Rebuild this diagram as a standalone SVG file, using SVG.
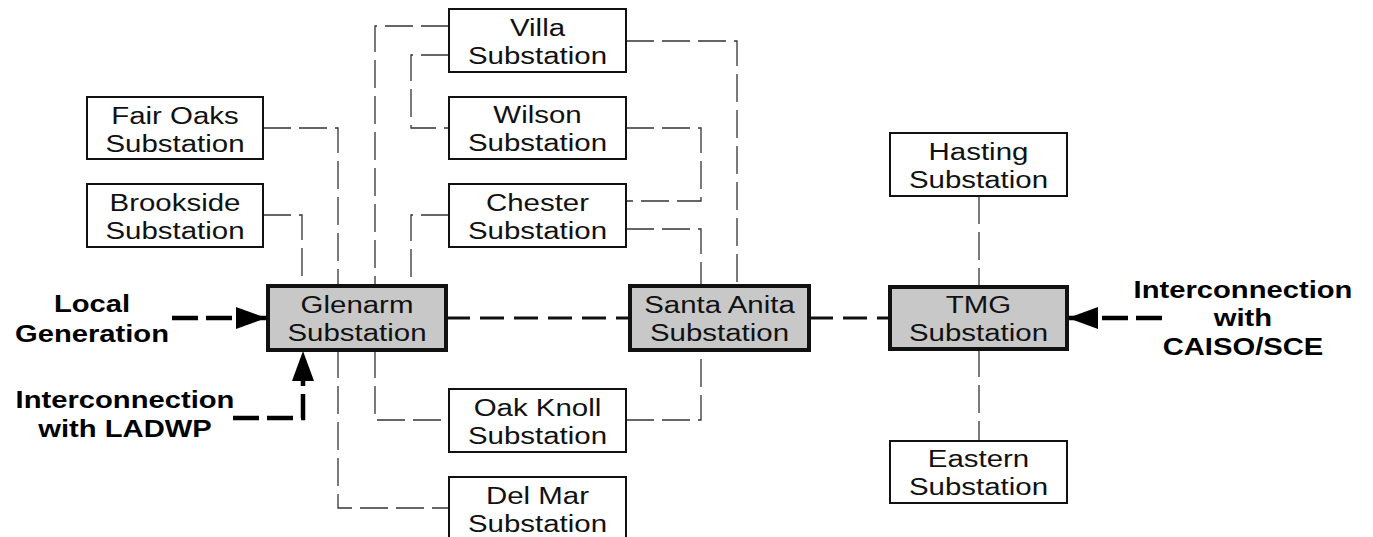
<svg xmlns="http://www.w3.org/2000/svg" width="1373" height="537" viewBox="0 0 1373 537">
<style>
  .box { fill: #ffffff; stroke: #111; stroke-width: 2; }
  .main { fill: #c8c8c8; stroke: #111; stroke-width: 4; }
  .t { font-family: "Liberation Sans", Arial, sans-serif; font-size: 23px; fill: #111; text-anchor: middle; }
  .b { font-family: "Liberation Sans", Arial, sans-serif; font-size: 23px; font-weight: bold; fill: #000; text-anchor: middle; }
  .thin { fill: none; stroke: #333; stroke-width: 1.3; stroke-dasharray: 28 8; }
  .thick { fill: none; stroke: #111; stroke-width: 3; stroke-dasharray: 24 10; }
  .feed { fill: none; stroke: #000; stroke-width: 4.5; stroke-dasharray: 26 8; }
</style>
<defs>
  <marker id="ah" markerUnits="userSpaceOnUse" markerWidth="32" markerHeight="24" refX="30" refY="11" orient="auto">
    <path d="M0,0 L30,11 L0,22 Z" fill="#000"/>
  </marker>
</defs>
<rect width="1373" height="537" fill="#ffffff"/>
<g id="connectors">
  <!-- Fair Oaks -->
  <path class="thin" d="M263,128 H338 V286"/>
  <!-- Brookside -->
  <path class="thin" d="M263,215 H302 V286"/>
  <!-- Villa to Glenarm -->
  <path class="thin" d="M449,26 H375 V286"/>
  <!-- Villa to Wilson -->
  <path class="thin" d="M449,55 H411 V128 H449"/>
  <!-- Chester to Glenarm -->
  <path class="thin" d="M449,215 H411 V286"/>
  <!-- Villa to Santa Anita -->
  <path class="thin" d="M626,41 H737 V286"/>
  <!-- Wilson to Chester -->
  <path class="thin" d="M626,128 H701 V201 H626"/>
  <!-- Chester to Santa Anita -->
  <path class="thin" d="M626,229 H701 V286"/>
  <!-- Glenarm to Del Mar -->
  <path class="thin" d="M338,350 V508 H449"/>
  <!-- Glenarm to Oak Knoll -->
  <path class="thin" d="M375,350 V420 H449"/>
  <!-- Oak Knoll to Santa Anita -->
  <path class="thin" d="M626,420 H701 V350"/>
  <!-- Hasting / Eastern -->
  <path class="thin" d="M979,196 V287"/>
  <path class="thin" d="M979,349 V441"/>
  <!-- main lines -->
  <path class="thick" d="M446,318 H630"/>
  <path class="thick" d="M809,318 H890"/>
  <!-- feeds -->
  <path class="feed" d="M172,318 H266" marker-end="url(#ah)"/>
  <path class="feed" d="M233,418 H303 V351" marker-end="url(#ah)"/>
  <path class="feed" d="M1162,318 H1068" marker-end="url(#ah)"/>
</g>
<g id="fair-oaks">
  <rect class="box" x="87" y="97" width="176" height="62"/>
  <g transform="translate(175,0) scale(1.28,1)"><text class="t" x="0" y="124">Fair Oaks</text><text class="t" x="0" y="152">Substation</text></g>
</g>
<g id="brookside">
  <rect class="box" x="87" y="184" width="176" height="63"/>
  <g transform="translate(175,0) scale(1.28,1)"><text class="t" x="0" y="211">Brookside</text><text class="t" x="0" y="239">Substation</text></g>
</g>
<g id="villa">
  <rect class="box" x="449" y="9" width="177" height="63"/>
  <g transform="translate(537.5,0) scale(1.28,1)"><text class="t" x="0" y="36">Villa</text><text class="t" x="0" y="64">Substation</text></g>
</g>
<g id="wilson">
  <rect class="box" x="449" y="97" width="177" height="62"/>
  <g transform="translate(537.5,0) scale(1.28,1)"><text class="t" x="0" y="123">Wilson</text><text class="t" x="0" y="151">Substation</text></g>
</g>
<g id="chester">
  <rect class="box" x="449" y="184" width="177" height="63"/>
  <g transform="translate(537.5,0) scale(1.28,1)"><text class="t" x="0" y="211">Chester</text><text class="t" x="0" y="239">Substation</text></g>
</g>
<g id="glenarm">
  <rect class="main" x="268" y="286" width="178" height="64"/>
  <g transform="translate(357,0) scale(1.28,1)"><text class="t" x="0" y="313">Glenarm</text><text class="t" x="0" y="341">Substation</text></g>
</g>
<g id="santa-anita">
  <rect class="main" x="630" y="286" width="179" height="64"/>
  <g transform="translate(719.5,0) scale(1.28,1)"><text class="t" x="0" y="313">Santa Anita</text><text class="t" x="0" y="341">Substation</text></g>
</g>
<g id="tmg">
  <rect class="main" x="890" y="287" width="177" height="62"/>
  <g transform="translate(978.5,0) scale(1.28,1)"><text class="t" x="0" y="313">TMG</text><text class="t" x="0" y="341">Substation</text></g>
</g>
<g id="hasting">
  <rect class="box" x="890" y="133" width="177" height="63"/>
  <g transform="translate(978.5,0) scale(1.28,1)"><text class="t" x="0" y="160">Hasting</text><text class="t" x="0" y="188">Substation</text></g>
</g>
<g id="eastern">
  <rect class="box" x="890" y="441" width="177" height="62"/>
  <g transform="translate(978.5,0) scale(1.28,1)"><text class="t" x="0" y="467">Eastern</text><text class="t" x="0" y="495">Substation</text></g>
</g>
<g id="oak-knoll">
  <rect class="box" x="449" y="389" width="177" height="63"/>
  <g transform="translate(537.5,0) scale(1.28,1)"><text class="t" x="0" y="416">Oak Knoll</text><text class="t" x="0" y="444">Substation</text></g>
</g>
<g id="del-mar">
  <rect class="box" x="449" y="477" width="177" height="66"/>
  <g transform="translate(537.5,0) scale(1.28,1)"><text class="t" x="0" y="504">Del Mar</text><text class="t" x="0" y="532">Substation</text></g>
</g>
<g id="local-generation">
  <g transform="translate(92,0) scale(1.27,1)"><text class="b" x="0" y="312">Local</text><text class="b" x="0" y="342">Generation</text></g>
</g>
<g id="ladwp">
  <g transform="translate(125,0) scale(1.27,1)"><text class="b" x="0" y="408">Interconnection</text><text class="b" x="0" y="437">with LADWP</text></g>
</g>
<g id="caiso">
  <g transform="translate(1243,0) scale(1.27,1)"><text class="b" x="0" y="298">Interconnection</text><text class="b" x="0" y="326">with</text><text class="b" x="0" y="355">CAISO/SCE</text></g>
</g>
</svg>
